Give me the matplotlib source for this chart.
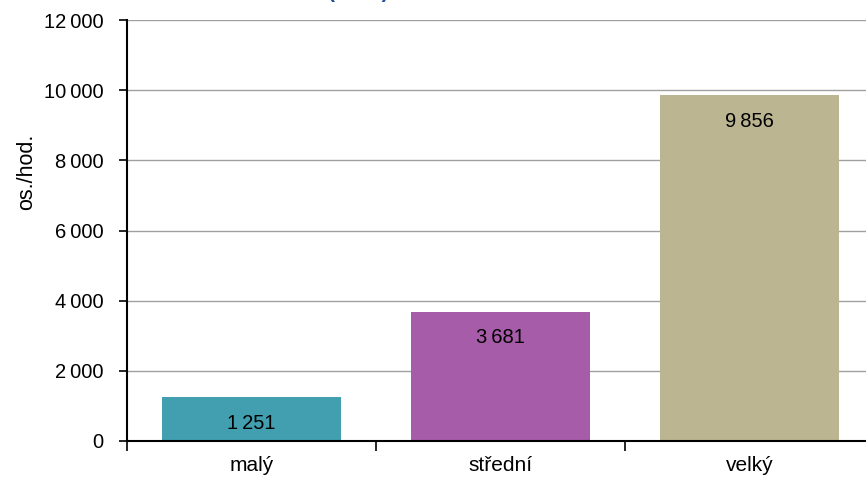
import matplotlib.pyplot as plt
from matplotlib.ticker import FuncFormatter

plt.rcParams['font.family'] = ['Liberation Sans', 'DejaVu Sans']

categories = ["malý", "střední", "velký"]
values = [1251, 3681, 9856]
colors = ["#419FAF", "#A65CA9", "#BBB592"]


def thousands(v, pos=None):
    return "{:,.0f}".format(v).replace(",", "\u2009")


fig = plt.figure(figsize=(8.66, 4.79), dpi=100)
ax = fig.add_axes([127 / 866, 38 / 479, 747 / 866, 421 / 479])

x = range(len(categories))
bars = ax.bar(x, values, width=0.715, color=colors, zorder=2)

for b, v in zip(bars, values):
    ax.text(b.get_x() + b.get_width() / 2, v - 740, thousands(v),
            ha="center", va="center", fontsize=14.5, color="black", zorder=3)

ax.set_xlim(-0.5, 2.5)
ax.set_ylim(0, 12000)
ax.set_yticks(range(0, 12001, 2000))
ax.yaxis.set_major_formatter(FuncFormatter(thousands))
ax.set_xticks([-0.5, 0.5, 1.5, 2.5])
ax.set_xticklabels([])
ax.set_xticks(list(x), minor=True)
ax.set_xticklabels(categories, minor=True)
ax.tick_params(axis="x", which="minor", length=0, pad=11, labelsize=15)
ax.tick_params(axis="x", which="major", length=7, direction="out", width=1.2)
ax.tick_params(axis="y", length=6, direction="out", width=1.2, labelsize=14.5, pad=11)

ax.grid(axis="y", color="#A0A0A0", linewidth=1, zorder=1)
for s in ["top", "right"]:
    ax.spines[s].set_visible(False)
for s in ["left", "bottom"]:
    ax.spines[s].set_linewidth(1.5)
    ax.spines[s].set_zorder(4)

ax.set_ylabel("os./hod.", fontsize=15.5)
ax.yaxis.set_label_coords(-0.12, 0.639)

fig.text(358 / 866, 481 / 479, "(2010)", color="#1F4E9C", fontsize=15,
         fontweight="bold", ha="center", va="baseline")

fig.savefig("out.png", dpi=100)
